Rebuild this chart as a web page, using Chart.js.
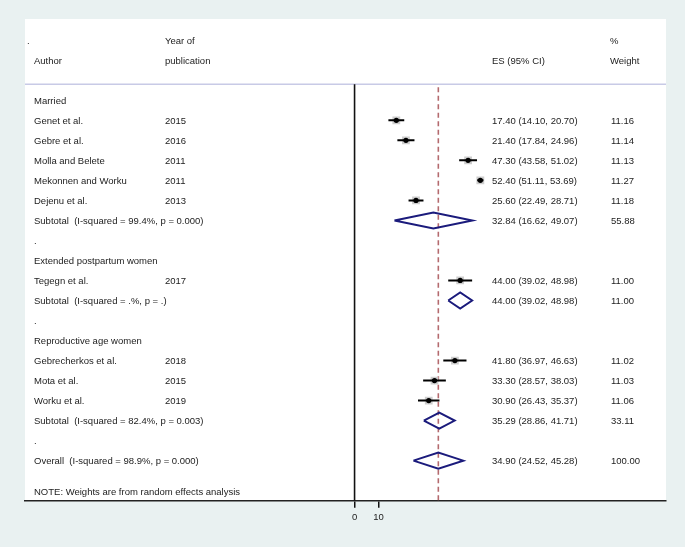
<!DOCTYPE html>
<html>
<head>
<meta charset="utf-8">
<script src="https://cdn.jsdelivr.net/npm/chart.js@4.4.1/dist/chart.umd.min.js"></script>
<style>
  html, body { margin: 0; padding: 0; background: #e9f1f1; }
  canvas { display: block; }
</style>
</head>
<body>
<canvas id="forest" width="685" height="547"></canvas>
<script>
/* ── Data ── */
const groups = ["Married", "Extended postpartum women", "Reproductive age women"];
const studyAuthors = ["Genet et al.", "Gebre et al.", "Molla and Belete", "Mekonnen and Worku", "Dejenu et al.",
  "Tegegn et al.", "Gebrecherkos et al.", "Mota et al.", "Worku et al."];
const studyYears = ["2015", "2016", "2011", "2011", "2013", "2017", "2018", "2015", "2019"];
const studyGroup = [0, 0, 0, 0, 0, 1, 2, 2, 2];
const studyES = [17.40, 21.40, 47.30, 52.40, 25.60, 44.00, 41.80, 33.30, 30.90];
const studyLo = [14.10, 17.84, 43.58, 51.11, 22.49, 39.02, 36.97, 28.57, 26.43];
const studyHi = [20.70, 24.96, 51.02, 53.69, 28.71, 48.98, 46.63, 38.03, 35.37];
const studyWeight = [11.16, 11.14, 11.13, 11.27, 11.18, 11.00, 11.02, 11.03, 11.06];

const subI2 = ["99.4%", ".%", "82.4%"];
const subP = ["0.000", ".", "0.003"];
const subES = [32.84, 44.00, 35.29];
const subLo = [16.62, 39.02, 28.86];
const subHi = [49.07, 48.98, 41.71];
const subWeight = [55.88, 11.00, 33.11];

const overall = { es: 34.90, lo: 24.52, hi: 45.28, weight: 100.00, i2: "98.9%", p: "0.000" };
const xTicks = [0, 10];

/* ── Row layout ── */
const fmt = (v) => v.toFixed(2);
const ci = (es, lo, hi) => `${fmt(es)} (${fmt(lo)}, ${fmt(hi)})`;

const rows = [];
const studyRow = [];
const subRow = [];
groups.forEach((g, gi) => {
  rows.push({ label: g });
  studyGroup.forEach((sg, si) => {
    if (sg !== gi) return;
    studyRow[si] = rows.length;
    rows.push({ label: studyAuthors[si], year: studyYears[si],
      es: ci(studyES[si], studyLo[si], studyHi[si]), w: fmt(studyWeight[si]) });
  });
  subRow[gi] = rows.length;
  rows.push({ label: `Subtotal  (I-squared = ${subI2[gi]}, p = ${subP[gi]})`,
    es: ci(subES[gi], subLo[gi], subHi[gi]), w: fmt(subWeight[gi]) });
  rows.push({ label: "." });
});
const overallRow = rows.length;
rows.push({ label: `Overall  (I-squared = ${overall.i2}, p = ${overall.p})`,
  es: ci(overall.es, overall.lo, overall.hi), w: fmt(overall.weight) });

const Y_MIN = -4.06, Y_MAX = 20;

/* ── Datasets (lower order = drawn on top) ── */
const datasets = [];

// point estimates
datasets.push({
  order: 0,
  data: studyES.map((v, i) => ({ x: v, y: studyRow[i] })),
  pointRadius: 2.6, backgroundColor: "#000", borderWidth: 0,
});

// confidence intervals
studyES.forEach((_, i) => {
  datasets.push({
    order: 1,
    data: [{ x: studyLo[i], y: studyRow[i] }, { x: studyHi[i], y: studyRow[i] }],
    showLine: true, borderColor: "#000", borderWidth: 2, pointRadius: 0,
  });
});

// weight boxes
datasets.push({
  order: 2,
  data: studyES.map((v, i) => ({ x: v, y: studyRow[i] })),
  pointStyle: "rect",
  pointRadius: studyWeight.map((w) => Math.sqrt(w) * 1.65),
  backgroundColor: "#cdcdcd",
  borderWidth: 0,
});

// diamonds
const diamond = (es, lo, hi, r) => [
  { x: lo, y: r }, { x: es, y: r - 0.4 }, { x: hi, y: r }, { x: es, y: r + 0.4 }, { x: lo, y: r },
];
subES.forEach((es, gi) => {
  datasets.push({ order: 1, data: diamond(es, subLo[gi], subHi[gi], subRow[gi]),
    showLine: true, borderColor: "#1b1b7c", borderWidth: 2, pointRadius: 0, tension: 0 });
});
datasets.push({ order: 1, data: diamond(overall.es, overall.lo, overall.hi, overallRow),
  showLine: true, borderColor: "#1b1b7c", borderWidth: 2, pointRadius: 0, tension: 0 });

// null line
datasets.push({ order: 3, data: [{ x: 0, y: -0.8 }, { x: 0, y: Y_MAX }],
  showLine: true, borderColor: "#111", borderWidth: 1.6, pointRadius: 0 });

// overall effect line
datasets.push({ order: 3, data: [{ x: overall.es, y: -0.65 }, { x: overall.es, y: Y_MAX }],
  showLine: true, borderColor: "#b46a6e", borderWidth: 1.6, borderDash: [5, 3.5], pointRadius: 0 });

/* ── Text columns + plot background ── */
const forestText = {
  id: "forestText",
  beforeDraw(chart) {
    const { ctx, chartArea: a } = chart;
    ctx.save();
    ctx.fillStyle = "#fff";
    ctx.fillRect(a.left, a.top, a.right - a.left, a.bottom - a.top);
    ctx.restore();
  },
  beforeDatasetsDraw(chart) {
    const { ctx, chartArea: a, scales: { y } } = chart;
    ctx.save();
    // header separator
    ctx.strokeStyle = "#c8cae6";
    ctx.lineWidth = 1.5;
    ctx.beginPath();
    ctx.moveTo(a.left, y.getPixelForValue(-0.8));
    ctx.lineTo(a.right, y.getPixelForValue(-0.8));
    ctx.stroke();

    ctx.fillStyle = "#222";
    ctx.font = "9.5px 'Liberation Sans', Arial, sans-serif";
    ctx.textBaseline = "middle";
    const put = (t, x, r) => ctx.fillText(t, x, y.getPixelForValue(r) + 1);

    put(".", 27, -3);
    put("Year of", 165, -3);
    put("%", 610, -3);
    put("Author", 34, -2);
    put("publication", 165, -2);
    put("ES (95% CI)", 492, -2);
    put("Weight", 610, -2);

    rows.forEach((row, r) => {
      put(row.label, 34, r);
      if (row.year) put(row.year, 165, r);
      if (row.es) put(row.es, 492, r);
      if (row.w) put(row.w, 611, r);
    });
    put("NOTE: Weights are from random effects analysis", 34, overallRow + 1.55);
    ctx.restore();
  },
};

new Chart(document.getElementById("forest"), {
  type: "scatter",
  data: { datasets },
  options: {
    responsive: false,
    animation: false,
    events: [],
    layout: { padding: { top: 19, left: 25, right: 19, bottom: 0 } },
    plugins: { legend: { display: false }, tooltip: { enabled: false } },
    scales: {
      x: {
        type: "linear",
        min: -137.3,
        max: 129.75,
        afterBuildTicks: (scale) => { scale.ticks = xTicks.map((v) => ({ value: v })); },
        afterFit: (scale) => { scale.height = 46.3; },
        grid: { drawOnChartArea: false, drawTicks: true, tickLength: 7, color: "#111", lineWidth: 1.5 },
        border: { display: true, color: "#222", width: 1.5 },
        ticks: {
          color: "#222",
          padding: 4,
          maxRotation: 0,
          font: { family: "'Liberation Sans', Arial, sans-serif", size: 9.5 },
          callback: (v) => String(v),
        },
      },
      y: {
        type: "linear",
        reverse: true,
        min: Y_MIN,
        max: Y_MAX,
        display: false,
      },
    },
  },
  plugins: [forestText],
});
</script>
</body>
</html>
